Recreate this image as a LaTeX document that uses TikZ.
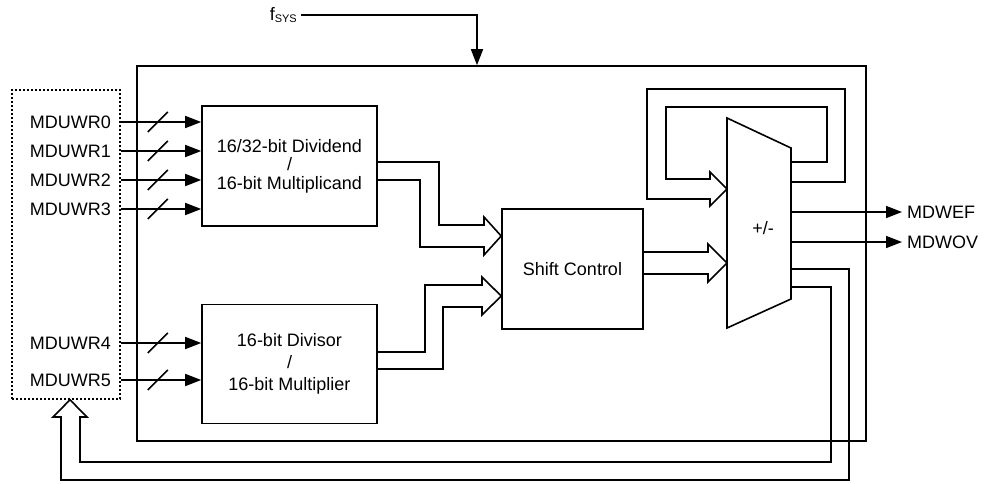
\documentclass[tikz,border=0pt]{standalone}
\usepackage{fontspec}
\setmainfont{Liberation Sans}
\usepackage{tikz}
\usetikzlibrary{
  arrows.meta,
  positioning,
  decorations.markings
}
\newcommand\mdufont{\fontsize{18}{18.5}\selectfont}
\tikzset{
  mdublock/.style={
    draw, line width=1.6pt, minimum width=175pt, minimum height=120pt,
    font=\mdufont, align=center
  },
  regbox/.style={draw, line width=1.6pt, dash pattern=on 2pt off 2pt, minimum width=108pt, minimum height=309pt},
  outerbox/.style={draw, line width=1.6pt, minimum width=729pt, minimum height=375pt},
  siglbl/.style={font=\mdufont, inner sep=5pt},
  wire/.style={line width=1.6pt, line join=miter},
  sig/.style={-{Stealth[length=16pt, width=12pt, inset=0pt]}, line width=1.6pt},
  busline/.style={sig, postaction={decorate},
    decoration={markings, mark=at position 0.46 with {\draw[line width=1.6pt, -] (-10pt,-10pt) -- (10pt,10pt);}}}
}

\begin{document}
\begin{tikzpicture}[x=1pt, y=-1pt]
  \useasboundingbox (0,0) rectangle (985,483);
  \node[outerbox] (mdu) at (501.5,253.5) {};
  \node[regbox] (regs) at (66,244.5) {};
  \node[mdublock] (dvd) at (289.5,166) {16/32-bit Dividend\\/\\16-bit Multiplicand};
  \node[mdublock, below=77pt of dvd, minimum height=119pt, font=\fontsize{18}{22}\selectfont] (dvs) {16-bit Divisor\\/\\16-bit Multiplier};
  \node[mdublock, minimum width=141pt] (shc) at (572.5,269) {Shift Control};
  % adder
  \draw[wire] (727,118) coordinate (aTL) -- (791,148) coordinate (aTR)
    -- (791,299) coordinate (aBR) -- (727,328) coordinate (aBL) -- cycle;
  \node[siglbl] (add) at (763,228) {+/-};

  % clock
  \node[siglbl, anchor=east, inner sep=4pt] (fsys) at (301,15) {f\raisebox{-2pt}{\fontsize{11}{11}\selectfont SYS}};
  \draw[sig] (fsys.east) -| (mdu.north -| 477,0);

  % register inputs
  \foreach \n/\y/\dst in {0/122/dvd, 1/151/dvd, 2/180/dvd, 3/209/dvd, 4/343/dvs, 5/380/dvs}{
    \node[siglbl, anchor=east] (w\n) at (116,\y) {MDUWR\n};
    \draw[busline] (regs.east |- w\n) -- (\dst.west |- w\n);
  }

  % wide paths
  \draw[wire] (dvd.east |- 0,162) -| (439,225) -- (484,225) -- (484,217) -- (shc.west |- 0,236)
    -- (484,255) -- (484,247) -| (420,180) -- (dvd.east |- 0,180);
  \draw[wire] (dvs.east |- 0,352) -| (425,285) -- (482,285) -- (482,277) -- (shc.west |- 0,296)
    -- (482,315) -- (482,307) -| (443,369) -- (dvs.east |- 0,369);
  \draw[wire] (shc.east |- 0,252) -- (708,252) -- (708,244) -- (aTL |- 0,263)
    -- (708,282) -- (708,274) -- (shc.east |- 0,274);
  \draw[wire] (aTR |- 0,162) -| (827,107) -| (666,179) -- (710,179) -- (710,172) -- (aTL |- 0,189)
    -- (710,206) -- (710,199) -| (647,89) -| (845,182) -- (aTR |- 0,182);

  % flags
  \node[siglbl, anchor=west] (ef) at (902,212) {MDWEF};
  \node[siglbl, anchor=west] (ov) at (902,242) {MDWOV};
  \draw[sig] (aTR |- ef) -- (ef.west);
  \draw[sig] (aTR |- ov) -- (ov.west);

  % result back to registers
  \draw[wire] (aBR |- 0,269) -| (849,480) -| (61,417) -- (53,417) -- (regs.south -| 70,0)
    -- (87,417) -- (80,417) |- (831,462) |- (aBR |- 0,287);
\end{tikzpicture}
\end{document}
